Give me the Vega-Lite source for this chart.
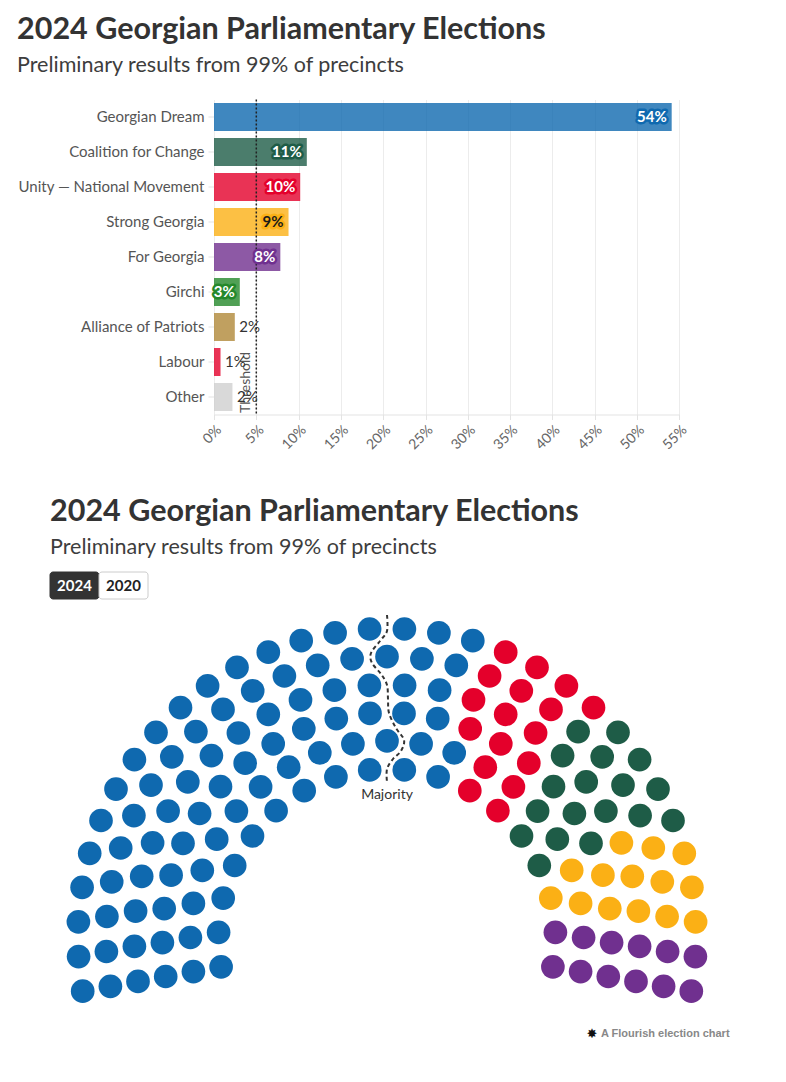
{
  "$schema": "https://vega.github.io/schema/vega-lite/v6.json",
  "background": "white",
  "padding": {"left": 0, "top": 14.5, "right": 0, "bottom": 0},
  "bounds": "flush",
  "spacing": 154.5,
  "config": {"view": {"stroke": null}, "font": "Lato"},
  "datasets": {
    "votes": [
      {"party": "Georgian Dream", "share": 0.541},
      {"party": "Coalition for Change", "share": 0.1097},
      {"party": "Unity — National Movement", "share": 0.1019},
      {"party": "Strong Georgia", "share": 0.0881},
      {"party": "For Georgia", "share": 0.0784},
      {"party": "Girchi", "share": 0.0305},
      {"party": "Alliance of Patriots", "share": 0.0246},
      {"party": "Labour", "share": 0.0077},
      {"party": "Other", "share": 0.0218}
    ],
    "buttons": [{"label": "2024"}, {"label": "2020"}],
    "majority": [
      {"i": 0, "x": 0, "y": 322.5}, {"i": 1, "x": 0, "y": 306.5}, {"i": 2, "x": -7, "y": 296.5},
      {"i": 3, "x": -16, "y": 284.5}, {"i": 4, "x": -15, "y": 274.5}, {"i": 5, "x": -6, "y": 263.5},
      {"i": 6, "x": 0, "y": 252.5}, {"i": 7, "x": 1, "y": 238.5}, {"i": 8, "x": 2, "y": 224.5},
      {"i": 9, "x": 9, "y": 209.5}, {"i": 10, "x": 17, "y": 197.5}, {"i": 11, "x": 14, "y": 186.5},
      {"i": 12, "x": 6, "y": 178.5}, {"i": 13, "x": 0, "y": 168.5}, {"i": 14, "x": 0, "y": 155.5}
    ],
    "seats": [
      {"party": "Georgian Dream", "x": -165.9, "y": -29.3},
      {"party": "Georgian Dream", "x": -168.4, "y": 5.2},
      {"party": "Georgian Dream", "x": -163.8, "y": 39.4},
      {"party": "Georgian Dream", "x": -152.3, "y": 72.0},
      {"party": "Georgian Dream", "x": -134.5, "y": 101.5},
      {"party": "Georgian Dream", "x": -110.9, "y": 126.8},
      {"party": "Georgian Dream", "x": -82.8, "y": 146.8},
      {"party": "Georgian Dream", "x": -51.1, "y": 160.6},
      {"party": "Georgian Dream", "x": -17.3, "y": 167.6},
      {"party": "Georgian Dream", "x": 17.3, "y": 167.6},
      {"party": "Georgian Dream", "x": 51.1, "y": 160.6},
      {"party": "Unity — National Movement", "x": 82.8, "y": 146.8},
      {"party": "Unity — National Movement", "x": 110.9, "y": 126.8},
      {"party": "Coalition for Change", "x": 134.5, "y": 101.5},
      {"party": "Coalition for Change", "x": 152.3, "y": 72.0},
      {"party": "Strong Georgia", "x": 163.8, "y": 39.4},
      {"party": "For Georgia", "x": 168.4, "y": 5.2},
      {"party": "For Georgia", "x": 165.9, "y": -29.3},

      {"party": "Georgian Dream", "x": -193.6, "y": -34.1},
      {"party": "Georgian Dream", "x": -196.6, "y": 0},
      {"party": "Georgian Dream", "x": -193.6, "y": 34.1},
      {"party": "Georgian Dream", "x": -184.7, "y": 67.2},
      {"party": "Georgian Dream", "x": -170.3, "y": 98.3},
      {"party": "Georgian Dream", "x": -150.6, "y": 126.4},
      {"party": "Georgian Dream", "x": -126.4, "y": 150.6},
      {"party": "Georgian Dream", "x": -98.3, "y": 170.3},
      {"party": "Georgian Dream", "x": -67.2, "y": 184.7},
      {"party": "Georgian Dream", "x": -34.1, "y": 193.6},
      {"party": "Georgian Dream", "x": 0, "y": 196.6},
      {"party": "Georgian Dream", "x": 34.1, "y": 193.6},
      {"party": "Georgian Dream", "x": 67.2, "y": 184.7},
      {"party": "Unity — National Movement", "x": 98.3, "y": 170.3},
      {"party": "Unity — National Movement", "x": 126.4, "y": 150.6},
      {"party": "Coalition for Change", "x": 150.6, "y": 126.4},
      {"party": "Coalition for Change", "x": 170.3, "y": 98.3},
      {"party": "Strong Georgia", "x": 184.7, "y": 67.2},
      {"party": "Strong Georgia", "x": 193.6, "y": 34.1},
      {"party": "For Georgia", "x": 196.6, "y": 0},
      {"party": "For Georgia", "x": 193.6, "y": -34.1},

      {"party": "Georgian Dream", "x": -221.3, "y": -39.0},
      {"party": "Georgian Dream", "x": -224.6, "y": -5.1},
      {"party": "Georgian Dream", "x": -222.8, "y": 28.9},
      {"party": "Georgian Dream", "x": -215.9, "y": 62.3},
      {"party": "Georgian Dream", "x": -204.0, "y": 94.2},
      {"party": "Georgian Dream", "x": -187.4, "y": 124.0},
      {"party": "Georgian Dream", "x": -166.5, "y": 150.9},
      {"party": "Georgian Dream", "x": -141.8, "y": 174.3},
      {"party": "Georgian Dream", "x": -113.8, "y": 193.7},
      {"party": "Georgian Dream", "x": -83.2, "y": 208.7},
      {"party": "Georgian Dream", "x": -50.7, "y": 218.9},
      {"party": "Georgian Dream", "x": -17.0, "y": 224.1},
      {"party": "Georgian Dream", "x": 17.0, "y": 224.1},
      {"party": "Georgian Dream", "x": 50.7, "y": 218.9},
      {"party": "Unity — National Movement", "x": 83.2, "y": 208.7},
      {"party": "Unity — National Movement", "x": 113.8, "y": 193.7},
      {"party": "Unity — National Movement", "x": 141.8, "y": 174.3},
      {"party": "Coalition for Change", "x": 166.5, "y": 150.9},
      {"party": "Coalition for Change", "x": 187.4, "y": 124.0},
      {"party": "Coalition for Change", "x": 204.0, "y": 94.2},
      {"party": "Strong Georgia", "x": 215.9, "y": 62.3},
      {"party": "Strong Georgia", "x": 222.8, "y": 28.9},
      {"party": "For Georgia", "x": 224.6, "y": -5.1},
      {"party": "For Georgia", "x": 221.3, "y": -39.0},

      {"party": "Georgian Dream", "x": -249.0, "y": -43.9},
      {"party": "Georgian Dream", "x": -252.6, "y": -8.8},
      {"party": "Georgian Dream", "x": -251.4, "y": 26.4},
      {"party": "Georgian Dream", "x": -245.3, "y": 61.2},
      {"party": "Georgian Dream", "x": -234.4, "y": 94.7},
      {"party": "Georgian Dream", "x": -218.9, "y": 126.4},
      {"party": "Georgian Dream", "x": -199.2, "y": 155.6},
      {"party": "Georgian Dream", "x": -175.6, "y": 181.9},
      {"party": "Georgian Dream", "x": -148.6, "y": 204.5},
      {"party": "Georgian Dream", "x": -118.7, "y": 223.2},
      {"party": "Georgian Dream", "x": -86.5, "y": 237.6},
      {"party": "Georgian Dream", "x": -52.6, "y": 247.3},
      {"party": "Georgian Dream", "x": -17.6, "y": 252.2},
      {"party": "Georgian Dream", "x": 17.6, "y": 252.2},
      {"party": "Georgian Dream", "x": 52.6, "y": 247.3},
      {"party": "Unity — National Movement", "x": 86.5, "y": 237.6},
      {"party": "Unity — National Movement", "x": 118.7, "y": 223.2},
      {"party": "Unity — National Movement", "x": 148.6, "y": 204.5},
      {"party": "Coalition for Change", "x": 175.6, "y": 181.9},
      {"party": "Coalition for Change", "x": 199.2, "y": 155.6},
      {"party": "Coalition for Change", "x": 218.9, "y": 126.4},
      {"party": "Strong Georgia", "x": 234.4, "y": 94.7},
      {"party": "Strong Georgia", "x": 245.3, "y": 61.2},
      {"party": "Strong Georgia", "x": 251.4, "y": 26.4},
      {"party": "For Georgia", "x": 252.6, "y": -8.8},
      {"party": "For Georgia", "x": 249.0, "y": -43.9},

      {"party": "Georgian Dream", "x": -276.6, "y": -48.8},
      {"party": "Georgian Dream", "x": -280.6, "y": -14.0},
      {"party": "Georgian Dream", "x": -280.1, "y": 21.0},
      {"party": "Georgian Dream", "x": -275.3, "y": 55.7},
      {"party": "Georgian Dream", "x": -266.3, "y": 89.5},
      {"party": "Georgian Dream", "x": -253.1, "y": 121.9},
      {"party": "Georgian Dream", "x": -236.0, "y": 152.4},
      {"party": "Georgian Dream", "x": -215.2, "y": 180.6},
      {"party": "Georgian Dream", "x": -191.1, "y": 205.9},
      {"party": "Georgian Dream", "x": -164.0, "y": 228.1},
      {"party": "Georgian Dream", "x": -134.3, "y": 246.7},
      {"party": "Georgian Dream", "x": -102.6, "y": 261.5},
      {"party": "Georgian Dream", "x": -69.3, "y": 272.2},
      {"party": "Georgian Dream", "x": -34.9, "y": 278.7},
      {"party": "Georgian Dream", "x": 0, "y": 280.9},
      {"party": "Georgian Dream", "x": 34.9, "y": 278.7},
      {"party": "Georgian Dream", "x": 69.3, "y": 272.2},
      {"party": "Unity — National Movement", "x": 102.6, "y": 261.5},
      {"party": "Unity — National Movement", "x": 134.3, "y": 246.7},
      {"party": "Unity — National Movement", "x": 164.0, "y": 228.1},
      {"party": "Coalition for Change", "x": 191.1, "y": 205.9},
      {"party": "Coalition for Change", "x": 215.2, "y": 180.6},
      {"party": "Coalition for Change", "x": 236.0, "y": 152.4},
      {"party": "Coalition for Change", "x": 253.1, "y": 121.9},
      {"party": "Strong Georgia", "x": 266.3, "y": 89.5},
      {"party": "Strong Georgia", "x": 275.3, "y": 55.7},
      {"party": "Strong Georgia", "x": 280.1, "y": 21.0},
      {"party": "For Georgia", "x": 280.6, "y": -14.0},
      {"party": "For Georgia", "x": 276.6, "y": -48.8},

      {"party": "Georgian Dream", "x": -304.3, "y": -53.7},
      {"party": "Georgian Dream", "x": -308.4, "y": -19.1},
      {"party": "Georgian Dream", "x": -308.6, "y": 15.7},
      {"party": "Georgian Dream", "x": -304.9, "y": 50.2},
      {"party": "Georgian Dream", "x": -297.3, "y": 84.2},
      {"party": "Georgian Dream", "x": -286.0, "y": 117.0},
      {"party": "Georgian Dream", "x": -271.0, "y": 148.4},
      {"party": "Georgian Dream", "x": -252.6, "y": 177.9},
      {"party": "Georgian Dream", "x": -231.0, "y": 205.2},
      {"party": "Georgian Dream", "x": -206.5, "y": 229.9},
      {"party": "Georgian Dream", "x": -179.4, "y": 251.6},
      {"party": "Georgian Dream", "x": -150.0, "y": 270.2},
      {"party": "Georgian Dream", "x": -118.7, "y": 285.3},
      {"party": "Georgian Dream", "x": -85.8, "y": 296.8},
      {"party": "Georgian Dream", "x": -51.9, "y": 304.6},
      {"party": "Georgian Dream", "x": -17.4, "y": 308.5},
      {"party": "Georgian Dream", "x": 17.4, "y": 308.5},
      {"party": "Georgian Dream", "x": 51.9, "y": 304.6},
      {"party": "Georgian Dream", "x": 85.8, "y": 296.8},
      {"party": "Unity — National Movement", "x": 118.7, "y": 285.3},
      {"party": "Unity — National Movement", "x": 150.0, "y": 270.2},
      {"party": "Unity — National Movement", "x": 179.4, "y": 251.6},
      {"party": "Unity — National Movement", "x": 206.5, "y": 229.9},
      {"party": "Coalition for Change", "x": 231.0, "y": 205.2},
      {"party": "Coalition for Change", "x": 252.6, "y": 177.9},
      {"party": "Coalition for Change", "x": 271.0, "y": 148.4},
      {"party": "Coalition for Change", "x": 286.0, "y": 117.0},
      {"party": "Strong Georgia", "x": 297.3, "y": 84.2},
      {"party": "Strong Georgia", "x": 304.9, "y": 50.2},
      {"party": "Strong Georgia", "x": 308.6, "y": 15.7},
      {"party": "For Georgia", "x": 308.4, "y": -19.1},
      {"party": "For Georgia", "x": 304.3, "y": -53.7}
    ]
  },
  "vconcat": [
    {
      "width": 786,
      "height": 315,
      "title": {
        "text": "2024 Georgian Parliamentary Elections",
        "subtitle": "Preliminary results from 99% of precincts",
        "anchor": "start", "frame": "group", "dx": 17, "offset": 22.5, "subtitlePadding": 8.8,
        "font": "Lato", "fontSize": 30.5, "fontWeight": "bold", "color": "#333333",
        "subtitleFont": "Lato", "subtitleFontSize": 21.5, "subtitleColor": "#3d3d3d"
      },
      "data": {"name": "votes"},
      "layer": [
        {
          "mark": {"type": "bar", "fillOpacity": 0.8},
          "encoding": {
            "x": {
              "field": "share", "type": "quantitative",
              "scale": {"domain": [0, 0.55], "range": [214, 679.3], "nice": false},
              "axis": {
                "values": [0, 0.05, 0.1, 0.15, 0.2, 0.25, 0.3, 0.35, 0.4, 0.45, 0.5, 0.55],
                "format": ".0%", "labelAngle": -45, "labelFontSize": 14, "labelColor": "#666666",
                "labelPadding": 3, "tickSize": 5, "tickColor": "#e3e3e3", "domainColor": "#e3e3e3",
                "grid": true, "gridColor": "#ececec", "title": null
              }
            },
            "y": {
              "field": "party", "type": "nominal", "sort": null,
              "scale": {"domain": ["Georgian Dream", "Coalition for Change", "Unity — National Movement", "Strong Georgia", "For Georgia", "Girchi", "Alliance of Patriots", "Labour", "Other"], "paddingInner": 0.2, "paddingOuter": 0.1},
              "axis": {"offset": -214, "domain": false, "tickColor": "#e3e3e3", "tickSize": 6, "labelPadding": 4, "labelFontSize": 15, "labelColor": "#555555", "labelLimit": 400, "title": null, "grid": false}
            },
            "color": {
              "field": "party", "type": "nominal", "legend": null,
              "scale": {
                "domain": ["Georgian Dream", "Coalition for Change", "Unity — National Movement", "Strong Georgia", "For Georgia", "Girchi", "Alliance of Patriots", "Labour", "Other"],
                "range": ["#0f69af", "#1e5c47", "#e4002b", "#fbb015", "#70308f", "#24882a", "#b08838", "#e4002b", "#cfcfcf"]
              }
            }
          }
        },
        {
          "data": {"values": [{}]},
          "mark": {"type": "rule", "strokeDash": [2, 2], "strokeWidth": 1.5, "color": "#222222"},
          "encoding": {"x": {"datum": 0.05}}
        },
        {
          "data": {"values": [{}]},
          "mark": {"type": "text", "text": "Threshold", "angle": 270, "align": "left", "baseline": "bottom", "dx": -16, "dy": -3, "fontSize": 14, "color": "#555555"},
          "encoding": {"x": {"datum": 0.05}, "y": {"datum": "Other"}}
        },
        {
          "transform": [{"filter": "datum.share >= 0.03"}],
          "mark": {"type": "text", "align": "right", "dx": -5, "fontSize": 15, "fontWeight": "bold", "strokeWidth": 5, "strokeJoin": "round"},
          "encoding": {
            "x": {"field": "share", "type": "quantitative"},
            "y": {"field": "party", "type": "nominal"},
            "text": {"field": "share", "format": ".0%"},
            "color": {"field": "party", "type": "nominal"},
            "stroke": {
              "field": "party", "type": "nominal", "legend": null,
              "scale": {
                "domain": ["Georgian Dream", "Coalition for Change", "Unity — National Movement", "Strong Georgia", "For Georgia", "Girchi", "Alliance of Patriots", "Labour", "Other"],
                "range": ["#0f69af", "#1e5c47", "#e4002b", "#fbb015", "#70308f", "#24882a", "#b08838", "#e4002b", "#cfcfcf"]
              }
            }
          }
        },
        {
          "transform": [{"filter": "datum.share >= 0.03"}],
          "mark": {"type": "text", "align": "right", "dx": -5, "fontSize": 15, "fontWeight": "bold"},
          "encoding": {
            "x": {"field": "share", "type": "quantitative"},
            "y": {"field": "party", "type": "nominal"},
            "text": {"field": "share", "format": ".0%"},
            "color": {"condition": {"test": "datum.party === 'Strong Georgia'", "value": "#1a1a1a"}, "value": "#ffffff"}
          }
        },
        {
          "transform": [{"filter": "datum.share < 0.03"}],
          "mark": {"type": "text", "align": "left", "dx": 4.5, "fontSize": 15, "color": "#333333"},
          "encoding": {
            "x": {"field": "share", "type": "quantitative"},
            "y": {"field": "party", "type": "nominal"},
            "text": {"field": "share", "format": ".0%"}
          }
        }
      ]
    },
    {
      "width": 786,
      "height": 482,
      "title": {
        "text": "2024 Georgian Parliamentary Elections",
        "subtitle": "Preliminary results from 99% of precincts",
        "anchor": "start", "frame": "group", "dx": 50, "offset": 11, "subtitlePadding": 9.1,
        "font": "Lato", "fontSize": 30.5, "fontWeight": "bold", "color": "#333333",
        "subtitleFont": "Lato", "subtitleFontSize": 21.5, "subtitleColor": "#3d3d3d"
      },
      "layer": [
        {
          "layer": [
            {
              "data": {"name": "seats"},
              "mark": {"type": "circle", "size": 560, "opacity": 1},
              "encoding": {
                "x": {"field": "x", "type": "quantitative", "scale": {"domain": [-387, 399], "nice": false, "zero": false}, "axis": null},
                "y": {"field": "y", "type": "quantitative", "scale": {"domain": [-113.5, 368.5], "nice": false, "zero": false}, "axis": null},
                "color": {
                  "field": "party", "type": "nominal", "legend": null,
                  "scale": {
                    "domain": ["Georgian Dream", "Unity — National Movement", "Coalition for Change", "Strong Georgia", "For Georgia"],
                    "range": ["#0f69af", "#e4002b", "#1e5c47", "#fdb515", "#70308f"]
                  }
                }
              }
            },
            {
              "data": {"name": "majority"},
              "mark": {"type": "line", "strokeDash": [4, 3], "strokeWidth": 2, "color": "#333333", "interpolate": "cardinal"},
              "encoding": {
                "x": {"field": "x", "type": "quantitative"},
                "y": {"field": "y", "type": "quantitative"},
                "order": {"field": "i", "type": "quantitative"}
              }
            },
            {
              "data": {"values": [{}]},
              "mark": {"type": "text", "text": "Majority", "fontSize": 14, "color": "#333333", "baseline": "middle"},
              "encoding": {"x": {"datum": 0}, "y": {"datum": 142.5}}
            },
            {
              "data": {"values": [{}]},
              "mark": {"type": "text", "text": "✸", "font": "DejaVu Sans", "fontSize": 13, "color": "#111111", "baseline": "middle"},
              "encoding": {"x": {"datum": 205}, "y": {"datum": -96.5}}
            },
            {
              "data": {"values": [{}]},
              "mark": {"type": "text", "text": "A Flourish election chart", "font": "Liberation Sans", "fontWeight": "bold", "fontSize": 11, "color": "#888888", "align": "left", "baseline": "middle"},
              "encoding": {"x": {"datum": 214}, "y": {"datum": -96.5}}
            }
          ]
        },
        {
          "data": {"name": "buttons"},
          "encoding": {
            "x": {"field": "label", "type": "nominal", "sort": null, "scale": {"domain": ["2024", "2020"], "range": [50, 148], "paddingInner": 0, "paddingOuter": 0}, "axis": null},
            "y": {"datum": "toggle", "type": "nominal", "scale": {"range": [3, 30], "paddingInner": 0, "paddingOuter": 0}, "axis": null}
          },
          "layer": [
            {
              "mark": {"type": "rect", "cornerRadius": 3, "strokeWidth": 1},
              "encoding": {
                "fill": {"condition": {"test": "datum.label === '2024'", "value": "#333333"}, "value": "#ffffff"},
                "stroke": {"condition": {"test": "datum.label === '2024'", "value": "#333333"}, "value": "#cccccc"}
              }
            },
            {
              "mark": {"type": "text", "fontSize": 15, "fontWeight": "bold"},
              "encoding": {
                "text": {"field": "label"},
                "color": {"condition": {"test": "datum.label === '2024'", "value": "#ffffff"}, "value": "#222222"}
              }
            }
          ]
        }
      ],
      "resolve": {"scale": {"x": "independent", "y": "independent"}}
    }
  ]
}
